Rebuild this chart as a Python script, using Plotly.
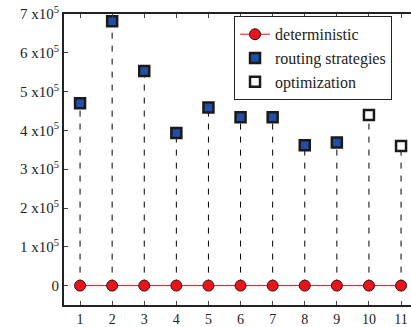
import plotly.graph_objects as go

runs = list(range(1, 12))
deterministic = [0] * 11
routing_x = [1, 2, 3, 4, 5, 6, 7, 8, 9]
routing_y = [4.70e5, 6.81e5, 5.53e5, 3.93e5, 4.59e5, 4.34e5, 4.34e5, 3.62e5, 3.69e5]
optim_x = [10, 11]
optim_y = [4.40e5, 3.60e5]
ytick_vals = [0, 1e5, 2e5, 3e5, 4e5, 5e5, 6e5, 7e5]
ytick_text = ["0"] + [f"{i} x10<sup>5</sup>" for i in range(1, 8)]

FONT = "Liberation Serif"

# stems from 0 to each value
all_x = routing_x + optim_x
all_y = routing_y + optim_y
sx, sy = [], []
for xv, yv in zip(all_x, all_y):
    sx += [xv, xv, None]
    sy += [0, yv, None]

fig = go.Figure()
fig.add_trace(go.Scatter(x=sx, y=sy, mode="lines",
                         line=dict(color="black", width=1, dash="6px,7px"),
                         showlegend=False, hoverinfo="skip"))
fig.add_trace(go.Scatter(x=runs, y=deterministic, mode="lines+markers", name="deterministic",
                         line=dict(color="#e8141c", width=1), cliponaxis=False,
                         marker=dict(symbol="circle", size=11, color="#e8141c",
                                     line=dict(color="#3a1010", width=1))))
fig.add_trace(go.Scatter(x=routing_x, y=routing_y, mode="markers", name="routing strategies",
                         cliponaxis=False,
                         marker=dict(symbol="square", size=10, color="#1f4fa8",
                                     line=dict(color="#1a1a1a", width=2.5))))
fig.add_trace(go.Scatter(x=optim_x, y=optim_y, mode="markers", name="optimization",
                         cliponaxis=False,
                         marker=dict(symbol="square", size=10, color="white",
                                     line=dict(color="#1a1a1a", width=2.5))))

fig.update_layout(
    width=411, height=327,
    margin=dict(l=64, r=0, t=14, b=22, autoexpand=False),
    paper_bgcolor="white", plot_bgcolor="white",
    font=dict(family=FONT, size=14, color="#222"),
    legend=dict(x=0.49, y=0.992, xanchor="left", yanchor="top",
                bgcolor="white", bordercolor="#222", borderwidth=1,
                font=dict(family=FONT, size=16), tracegroupgap=0,
                itemwidth=30),
)
fig.update_xaxes(range=[0.5, 11.31], tickvals=runs, ticks="inside", ticklen=4,
                 showline=True, linecolor="#222", linewidth=2, mirror="ticks",
                 showgrid=False, zeroline=False, automargin=False,
                 tickfont=dict(family=FONT, size=14))
fig.update_yaxes(range=[-0.5e5, 7e5], tickvals=ytick_vals, ticktext=ytick_text,
                 ticks="inside", ticklen=4, showline=True, linecolor="#222", linewidth=2,
                 showgrid=False, zeroline=False, automargin=False,
                 tickfont=dict(family=FONT, size=15))

fig.write_html("out.html", config={"displayModeBar": False},
               post_script="document.body.style.margin='0';")
